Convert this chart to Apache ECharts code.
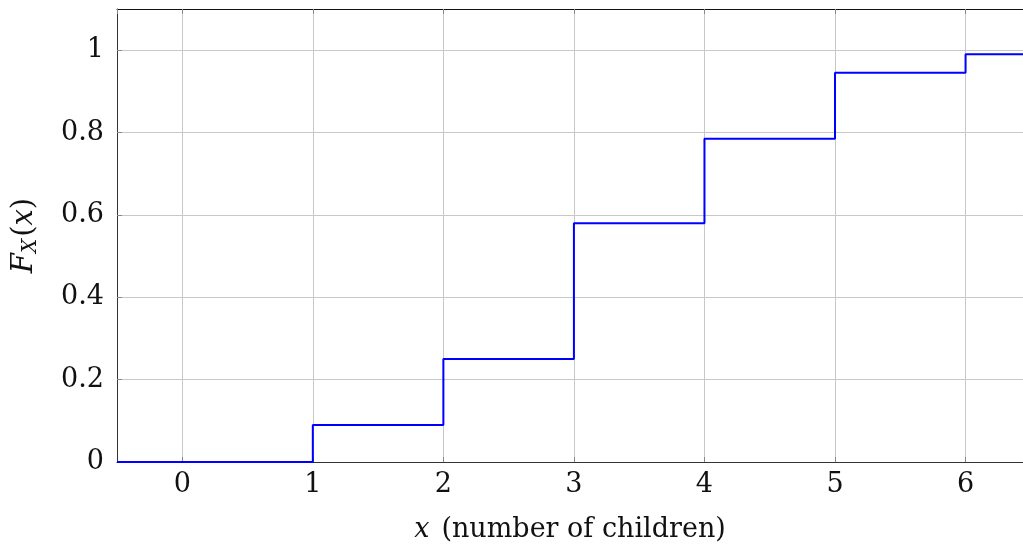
<!DOCTYPE html>
<html>
<head>
<meta charset="utf-8">
<script src="https://cdn.jsdelivr.net/npm/echarts@6/dist/echarts.min.js"></script>
<style>html,body{margin:0;padding:0;background:#fff;}#c{width:1023px;height:550px;}</style>
</head>
<body>
<div id="c"></div>
<script>
// Data: number of children (x) and cumulative distribution F_X(x)
const xValues = [-0.5, 0, 1, 2, 3, 4, 5, 6, 6.44];
const cdfValues = [0, 0, 0.09, 0.25, 0.58, 0.785, 0.945, 0.99, 0.99];
const xAxisTitle = 'x (number of children)';
const yTickValues = [0, 0.2, 0.4, 0.6, 0.8, 1];

const FONT = 'DejaVu Serif';
const chart = echarts.init(document.getElementById('c'), null, {renderer: 'canvas'});
const seriesData = xValues.map((x, i) => [x, cdfValues[i]]);
const X_MIN = -0.5, X_MAX = 6.44;

const tickStyle = {show: true, inside: true, length: 5, lineStyle: {color: '#888'}};

chart.setOption({
  animation: false,
  grid: {left: 117, top: 9, bottom: 88, right: 0, show: false, containLabel: false, outerBoundsMode: 'none'},
  xAxis: [{
    type: 'value', min: X_MIN, max: X_MAX, splitNumber: 7,
    axisLine: {show: true, onZero: false, lineStyle: {color: '#333', width: 1}},
    axisTick: tickStyle,
    splitLine: {show: true, lineStyle: {color: '#c8c8c8', width: 1}},
    axisLabel: {showMinLabel: false, showMaxLabel: false, color: '#111', fontFamily: FONT, fontSize: 27, margin: 9,
      formatter: v => String(v)},
    name: '{i|x}{sp| }{n|(number of children)}',
    nameLocation: 'middle', nameGap: 54,
    nameTextStyle: {rich: {
      i: {fontFamily: FONT, fontStyle: 'italic', fontSize: 27, color: '#111'},
      sp: {fontFamily: FONT, fontSize: 27, width: 12},
      n: {fontFamily: FONT, fontSize: 27, color: '#111'}
    }}
  }, {
    type: 'value', min: X_MIN, max: X_MAX, splitNumber: 7, position: 'top',
    axisLine: {show: true, onZero: false, lineStyle: {color: '#111', width: 1}},
    axisTick: tickStyle,
    splitLine: {show: false},
    axisLabel: {show: false}
  }],
  yAxis: {
    type: 'value', min: 0, max: 1.1, interval: 0.2,
    axisLine: {show: true, onZero: false, lineStyle: {color: '#333', width: 1}},
    axisTick: tickStyle,
    splitLine: {show: true, lineStyle: {color: '#c8c8c8', width: 1}},
    axisLabel: {showMaxLabel: false, color: '#111', fontFamily: FONT, fontSize: 27, margin: 13,
      formatter: v => (yTickValues.some(t => Math.abs(t - v) < 1e-9) ? String(+v.toFixed(1)) : '')},
    name: '{i|F}{s|X}{n|(}{i|x}{n|)}',
    nameLocation: 'middle', nameGap: 76, nameRotate: 90,
    nameTextStyle: {rich: {
      i: {fontFamily: FONT, fontStyle: 'italic', fontSize: 29, color: '#111'},
      s: {fontFamily: FONT, fontStyle: 'italic', fontSize: 20, color: '#111', verticalAlign: 'bottom', padding: [13, 2, 0, 0]},
      n: {fontFamily: FONT, fontSize: 29, color: '#111'}
    }}
  },
  series: [{
    type: 'line', step: 'end', data: seriesData, showSymbol: false, symbol: 'none',
    xAxisIndex: 0,
    lineStyle: {color: '#0000ff', width: 2}, clip: true
  }]
});
</script>
</body>
</html>
